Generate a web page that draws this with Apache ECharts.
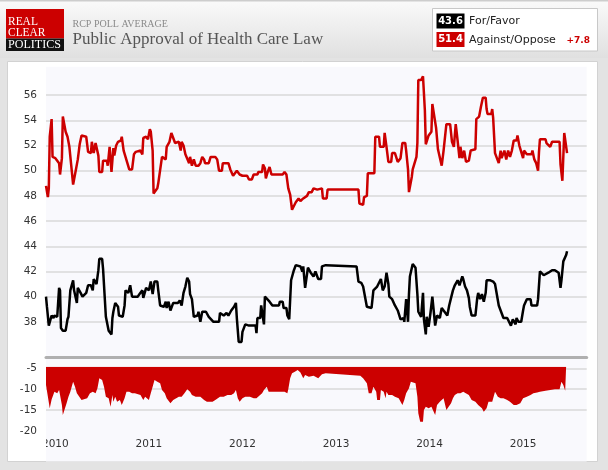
<!DOCTYPE html>
<html>
<head>
<meta charset="utf-8">
<script src="https://cdn.jsdelivr.net/npm/echarts@6/dist/echarts.min.js"></script>
<style>
html, body { margin: 0; padding: 0; background: #e3e3e3; }
#mainchart { width: 608px; height: 470px; }
</style>
</head>
<body>
<div id="mainchart"></div>
<script>
// RCP average, time given as decimal year
var yearTicks = [2010, 2011, 2012, 2013, 2014, 2015];

var opposeYears = [
	2009.90, 2009.92, 2009.93, 2009.94, 2009.96, 2009.97, 2010.00, 2010.04, 2010.05, 2010.07,
	2010.08, 2010.10, 2010.11, 2010.13, 2010.15, 2010.17, 2010.19, 2010.20, 2010.22, 2010.24,
	2010.26, 2010.28, 2010.30, 2010.33, 2010.35, 2010.38, 2010.39, 2010.41, 2010.43, 2010.45,
	2010.46, 2010.47, 2010.50, 2010.51, 2010.55, 2010.56, 2010.58, 2010.60, 2010.62, 2010.63,
	2010.65, 2010.67, 2010.70, 2010.71, 2010.73, 2010.77, 2010.79, 2010.82, 2010.84, 2010.86,
	2010.91, 2010.93, 2010.94, 2010.97, 2010.99, 2011.01, 2011.02, 2011.04, 2011.05, 2011.07,
	2011.09, 2011.10, 2011.12, 2011.14, 2011.16, 2011.18, 2011.19, 2011.22, 2011.24, 2011.26,
	2011.28, 2011.32, 2011.34, 2011.35, 2011.37, 2011.39, 2011.41, 2011.43, 2011.44, 2011.46,
	2011.48, 2011.50, 2011.53, 2011.55, 2011.57, 2011.59, 2011.60, 2011.64, 2011.66, 2011.71,
	2011.73, 2011.75, 2011.78, 2011.79, 2011.85, 2011.87, 2011.90, 2011.92, 2011.94, 2011.97,
	2012.00, 2012.01, 2012.05, 2012.07, 2012.10, 2012.12, 2012.16, 2012.17, 2012.21, 2012.22,
	2012.24, 2012.25, 2012.27, 2012.29, 2012.31, 2012.43, 2012.45, 2012.47, 2012.49, 2012.51,
	2012.53, 2012.55, 2012.57, 2012.58, 2012.60, 2012.62, 2012.65, 2012.69, 2012.71, 2012.74,
	2012.76, 2012.80, 2012.81, 2012.85, 2012.86, 2012.90, 2012.91, 2013.24, 2013.25, 2013.29,
	2013.30, 2013.33, 2013.34, 2013.41, 2013.42, 2013.46, 2013.47, 2013.51, 2013.52, 2013.53,
	2013.54, 2013.56, 2013.59, 2013.60, 2013.63, 2013.65, 2013.66, 2013.69, 2013.71, 2013.74,
	2013.75, 2013.77, 2013.78, 2013.80, 2013.81, 2013.82, 2013.84, 2013.86, 2013.87, 2013.88,
	2013.91, 2013.93, 2013.94, 2013.95, 2013.96, 2013.98, 2013.99, 2014.02, 2014.03, 2014.05,
	2014.07, 2014.09, 2014.11, 2014.13, 2014.15, 2014.18, 2014.22, 2014.24, 2014.26, 2014.28,
	2014.30, 2014.32, 2014.33, 2014.35, 2014.37, 2014.39, 2014.42, 2014.44, 2014.49, 2014.50,
	2014.53, 2014.55, 2014.57, 2014.60, 2014.61, 2014.62, 2014.66, 2014.67, 2014.68, 2014.70,
	2014.74, 2014.76, 2014.77, 2014.80, 2014.82, 2014.84, 2014.86, 2014.88, 2014.90, 2014.93,
	2014.94, 2014.96, 2014.98, 2015.00, 2015.01, 2015.04, 2015.09, 2015.10, 2015.12, 2015.14,
	2015.16, 2015.17, 2015.18, 2015.24, 2015.25, 2015.29, 2015.31, 2015.39, 2015.40, 2015.42,
	2015.43, 2015.44, 2015.46, 2015.47
];
var opposeValues = [
	48.8, 47.9, 48.6, 52.7, 54.1, 51.1, 51.0, 50.6, 49.7, 51.0,
	54.3, 54.3, 53.1, 52.7, 51.9, 50.4, 48.9, 48.8, 50.1, 50.9,
	52.1, 52.8, 52.8, 52.7, 51.5, 51.4, 52.3, 51.4, 52.2, 52.2,
	51.2, 49.9, 49.9, 50.8, 50.8, 50.4, 51.9, 49.9, 51.8, 51.2,
	52.0, 52.3, 52.4, 52.7, 51.6, 50.6, 50.1, 50.1, 51.3, 51.5,
	51.6, 51.3, 52.6, 52.7, 52.5, 53.3, 53.1, 51.6, 48.2, 48.3,
	48.6, 49.0, 49.0, 51.1, 51.1, 50.9, 51.9, 52.3, 53.0, 52.6,
	52.2, 52.3, 51.6, 52.3, 52.0, 51.3, 51.4, 50.6, 51.1, 50.4,
	50.9, 50.4, 50.4, 50.6, 51.1, 50.9, 50.6, 50.6, 51.1, 51.1,
	50.9, 50.0, 50.0, 50.6, 50.6, 50.1, 49.6, 49.6, 50.0, 49.7,
	49.6, 49.7, 49.6, 49.3, 49.3, 49.7, 49.7, 49.9, 49.9, 50.5,
	50.2, 49.4, 49.9, 50.3, 49.7, 49.7, 49.9, 49.7, 48.6, 48.1,
	46.9, 47.0, 47.5, 47.4, 47.8, 47.6, 47.8, 48.0, 48.3, 48.3,
	48.6, 48.5, 48.6, 48.6, 47.8, 47.8, 48.5, 48.5, 47.4, 47.3,
	47.9, 48.0, 49.8, 49.8, 52.7, 52.7, 51.9, 51.9, 53.0, 53.0,
	51.9, 50.7, 50.7, 51.4, 51.4, 51.5, 50.7, 51.0, 52.2, 52.2,
	51.6, 50.1, 48.3, 48.3, 49.5, 50.1, 50.2, 51.1, 52.2, 57.2,
	57.2, 57.5, 57.5, 54.8, 52.1, 52.1, 52.8, 53.1, 55.3, 55.3,
	53.4, 51.7, 51.6, 50.4, 51.6, 53.7, 53.7, 52.3, 51.9, 53.7,
	52.4, 51.0, 51.9, 51.0, 51.6, 50.7, 50.8, 51.6, 51.7, 54.1,
	54.3, 55.1, 55.8, 55.8, 54.9, 54.5, 54.5, 54.9, 54.2, 51.4,
	50.6, 51.6, 51.0, 51.6, 50.9, 51.6, 51.1, 51.6, 52.4, 52.4,
	52.8, 52.0, 51.9, 51.0, 51.6, 51.3, 51.3, 51.6, 50.9, 50.6,
	50.0, 51.5, 52.5, 52.5, 52.2, 51.9, 52.3, 52.3, 50.5, 49.2,
	49.2, 53.0, 53.0, 51.4
];

var favorYears = [
	2009.90, 2009.91, 2009.93, 2009.95, 2009.96, 2009.98, 2009.99, 2010.02, 2010.04, 2010.05,
	2010.06, 2010.08, 2010.11, 2010.13, 2010.14, 2010.16, 2010.19, 2010.20, 2010.23, 2010.24,
	2010.27, 2010.29, 2010.33, 2010.35, 2010.38, 2010.40, 2010.41, 2010.44, 2010.46, 2010.47,
	2010.50, 2010.51, 2010.52, 2010.54, 2010.56, 2010.57, 2010.60, 2010.61, 2010.62, 2010.64,
	2010.67, 2010.68, 2010.70, 2010.72, 2010.74, 2010.75, 2010.78, 2010.80, 2010.82, 2010.88,
	2010.90, 2010.93, 2010.94, 2010.97, 2011.00, 2011.02, 2011.04, 2011.06, 2011.09, 2011.10,
	2011.12, 2011.16, 2011.18, 2011.19, 2011.21, 2011.23, 2011.26, 2011.28, 2011.31, 2011.33,
	2011.35, 2011.37, 2011.39, 2011.41, 2011.43, 2011.44, 2011.46, 2011.48, 2011.52, 2011.53,
	2011.55, 2011.57, 2011.61, 2011.64, 2011.66, 2011.69, 2011.75, 2011.76, 2011.80, 2011.83,
	2011.85, 2011.88, 2011.91, 2011.93, 2011.94, 2011.96, 2011.99, 2012.00, 2012.03, 2012.07,
	2012.14, 2012.15, 2012.16, 2012.19, 2012.20, 2012.23, 2012.24, 2012.26, 2012.29, 2012.32,
	2012.39, 2012.40, 2012.43, 2012.44, 2012.47, 2012.48, 2012.50, 2012.52, 2012.55, 2012.57,
	2012.59, 2012.62, 2012.64, 2012.65, 2012.67, 2012.69, 2012.70, 2012.73, 2012.74, 2012.76,
	2012.78, 2012.80, 2012.81, 2012.84, 2012.85, 2012.89, 2012.90, 2013.22, 2013.24, 2013.27,
	2013.29, 2013.31, 2013.33, 2013.35, 2013.38, 2013.40, 2013.42, 2013.44, 2013.46, 2013.48,
	2013.50, 2013.52, 2013.54, 2013.56, 2013.57, 2013.60, 2013.63, 2013.66, 2013.68, 2013.69,
	2013.72, 2013.73, 2013.75, 2013.77, 2013.78, 2013.79, 2013.82, 2013.85, 2013.87, 2013.88,
	2013.91, 2013.93, 2013.94, 2013.96, 2013.97, 2013.99, 2014.01, 2014.03, 2014.05, 2014.06,
	2014.08, 2014.11, 2014.13, 2014.16, 2014.19, 2014.21, 2014.23, 2014.25, 2014.27, 2014.30,
	2014.32, 2014.35, 2014.36, 2014.38, 2014.40, 2014.42, 2014.43, 2014.45, 2014.49, 2014.51,
	2014.52, 2014.54, 2014.56, 2014.58, 2014.60, 2014.61, 2014.65, 2014.68, 2014.70, 2014.72,
	2014.74, 2014.76, 2014.77, 2014.79, 2014.83, 2014.84, 2014.87, 2014.89, 2014.92, 2014.93,
	2014.95, 2014.98, 2015.00, 2015.01, 2015.04, 2015.08, 2015.09, 2015.15, 2015.16, 2015.18,
	2015.20, 2015.22, 2015.27, 2015.31, 2015.34, 2015.36, 2015.38, 2015.40, 2015.41, 2015.43,
	2015.45, 2015.46, 2015.47
];
var favorValues = [
	40.0, 39.2, 37.7, 37.8, 38.5, 38.3, 38.5, 38.4, 40.7, 40.5,
	37.5, 37.3, 37.3, 38.2, 38.4, 40.5, 41.3, 40.5, 39.5, 40.7,
	40.3, 40.0, 40.3, 40.9, 40.9, 40.5, 41.4, 41.0, 42.1, 43.0,
	43.0, 42.2, 42.2, 38.4, 38.3, 37.3, 37.0, 38.3, 38.8, 39.5,
	39.2, 38.5, 38.5, 38.4, 39.3, 40.5, 40.3, 40.9, 40.0, 40.0,
	40.2, 40.5, 39.9, 40.7, 40.5, 41.2, 40.2, 41.2, 41.2, 40.5,
	39.3, 39.2, 39.6, 39.1, 39.6, 38.9, 39.5, 39.6, 39.5, 39.7,
	39.3, 40.3, 40.8, 41.5, 41.2, 40.2, 39.8, 38.4, 38.5, 38.8,
	38.0, 38.8, 38.8, 38.4, 38.3, 38.0, 38.0, 38.7, 38.5, 38.7,
	38.5, 38.9, 39.2, 39.5, 38.3, 36.4, 36.4, 37.2, 37.8, 37.7,
	37.7, 37.1, 38.3, 38.3, 39.3, 37.8, 40.0, 40.1, 39.6, 39.3,
	39.3, 39.6, 39.6, 39.1, 39.1, 38.5, 38.2, 41.3, 42.1, 42.5,
	42.6, 42.4, 42.0, 42.4, 40.7, 40.7, 42.3, 41.9, 42.0, 41.6,
	42.0, 41.9, 41.4, 41.4, 42.4, 42.5, 42.4, 42.4, 41.2, 41.1,
	40.8, 40.7, 39.2, 39.1, 39.1, 40.5, 40.5, 40.8, 40.8, 41.4,
	40.5, 40.8, 41.9, 41.0, 40.0, 39.8, 39.3, 38.9, 38.8, 38.2,
	38.3, 38.0, 39.8, 38.0, 40.2, 41.6, 42.6, 42.3, 40.2, 38.8,
	38.4, 40.3, 38.2, 37.0, 38.4, 37.6, 38.7, 40.0, 39.9, 37.7,
	38.5, 38.3, 39.1, 38.8, 38.5, 39.3, 39.9, 40.5, 40.9, 41.3,
	40.9, 41.6, 41.4, 40.8, 40.5, 39.9, 39.2, 38.5, 38.5, 39.9,
	40.3, 39.8, 40.2, 39.6, 40.3, 41.3, 41.3, 41.2, 41.0, 40.9,
	39.3, 38.9, 38.8, 38.3, 38.3, 38.2, 37.7, 38.2, 37.8, 38.3,
	38.0, 38.0, 38.9, 39.3, 39.8, 39.8, 39.3, 39.3, 39.8, 42.0,
	42.1, 41.7, 41.9, 42.1, 42.1, 42.0, 41.9, 40.7, 41.3, 42.8,
	42.9, 43.3, 43.6
];

var spreadYears = [
	2009.90, 2009.92, 2009.94, 2009.96, 2009.98, 2009.99, 2010.02, 2010.04, 2010.05, 2010.07,
	2010.08, 2010.10, 2010.12, 2010.14, 2010.16, 2010.19, 2010.21, 2010.23, 2010.25, 2010.28,
	2010.30, 2010.34, 2010.37, 2010.40, 2010.43, 2010.45, 2010.47, 2010.50, 2010.52, 2010.54,
	2010.57, 2010.59, 2010.61, 2010.62, 2010.64, 2010.66, 2010.69, 2010.71, 2010.74, 2010.76,
	2010.79, 2010.82, 2010.85, 2010.87, 2010.91, 2010.94, 2010.96, 2011.00, 2011.02, 2011.04,
	2011.06, 2011.09, 2011.12, 2011.14, 2011.17, 2011.19, 2011.23, 2011.26, 2011.28, 2011.32,
	2011.35, 2011.38, 2011.41, 2011.44, 2011.46, 2011.50, 2011.52, 2011.55, 2011.59, 2011.62,
	2011.68, 2011.71, 2011.76, 2011.80, 2011.84, 2011.88, 2011.91, 2011.93, 2011.95, 2011.97,
	2012.00, 2012.03, 2012.08, 2012.12, 2012.15, 2012.17, 2012.21, 2012.23, 2012.26, 2012.28,
	2012.45, 2012.48, 2012.49, 2012.51, 2012.53, 2012.56, 2012.59, 2012.62, 2012.65, 2012.67,
	2012.71, 2012.76, 2012.81, 2012.85, 2012.89, 2012.90, 2013.26, 2013.29, 2013.33, 2013.35,
	2013.38, 2013.40, 2013.43, 2013.44, 2013.47, 2013.48, 2013.51, 2013.53, 2013.54, 2013.56,
	2013.60, 2013.63, 2013.67, 2013.71, 2013.73, 2013.75, 2013.78, 2013.80, 2013.82, 2013.85,
	2013.87, 2013.88, 2013.90, 2013.93, 2013.94, 2013.96, 2013.99, 2014.02, 2014.04, 2014.06,
	2014.08, 2014.11, 2014.13, 2014.15, 2014.18, 2014.20, 2014.23, 2014.25, 2014.27, 2014.30,
	2014.33, 2014.36, 2014.38, 2014.42, 2014.45, 2014.49, 2014.52, 2014.56, 2014.58, 2014.61,
	2014.63, 2014.67, 2014.70, 2014.73, 2014.76, 2014.79, 2014.83, 2014.86, 2014.90, 2014.93,
	2014.97, 2015.00, 2015.04, 2015.08, 2015.11, 2015.15, 2015.18, 2015.24, 2015.29, 2015.34,
	2015.39, 2015.41, 2015.43, 2015.45, 2015.46
];
var spreadValues = [
	-9.0, -9.0, -14.6, -12.5, -12.5, -10.6, -11.0, -10.2, -10.2, -13.8,
	-16.2, -15.8, -13.4, -11.8, -10.6, -8.2, -9.4, -11.0, -11.4, -12.6,
	-12.4, -12.2, -11.0, -10.6, -11.0, -9.8, -7.4, -7.8, -9.4, -11.8,
	-12.2, -14.2, -11.4, -13.0, -11.8, -13.0, -12.6, -13.8, -12.2, -10.6,
	-10.6, -11.0, -11.0, -11.4, -11.4, -12.6, -11.8, -12.6, -11.0, -9.4,
	-7.8, -8.2, -8.6, -10.2, -11.0, -12.2, -13.4, -12.6, -12.6, -11.8,
	-11.8, -11.0, -10.0, -10.6, -11.4, -11.8, -12.2, -11.8, -12.6, -13.0,
	-13.0, -12.6, -11.8, -11.8, -11.4, -11.4, -11.0, -10.2, -12.2, -13.0,
	-12.2, -11.8, -11.8, -12.2, -12.2, -11.8, -11.0, -10.2, -9.4, -10.6,
	-10.6, -11.0, -10.0, -7.4, -6.2, -5.8, -5.4, -6.0, -7.4, -6.6,
	-7.0, -6.8, -7.4, -6.4, -6.2, -6.6, -6.8, -7.4, -8.6, -11.0,
	-11.0, -9.4, -10.6, -12.6, -12.6, -10.2, -10.6, -12.2, -10.6, -11.4,
	-11.4, -11.8, -12.2, -13.8, -12.6, -11.0, -9.8, -8.2, -8.2, -8.6,
	-11.8, -15.8, -17.8, -17.8, -15.0, -14.2, -14.6, -14.2, -14.2, -16.2,
	-13.8, -13.0, -12.6, -12.2, -15.0, -14.6, -13.4, -12.2, -11.4, -11.0,
	-11.0, -10.6, -10.2, -11.4, -12.6, -13.0, -13.8, -14.6, -15.4, -14.6,
	-13.0, -13.0, -10.6, -11.8, -12.2, -12.2, -12.6, -13.0, -13.8, -13.8,
	-13.4, -12.2, -11.8, -11.4, -11.0, -10.8, -10.6, -10.4, -10.2, -10.0,
	-10.0, -8.2, -9.0, -10.4, -10.2
];

var latestFavor = '43.6';
var latestOppose = '51.4';
var latestSpread = '+7.8';

function pairs(xs, ys) {
	var out = [];
	for (var i = 0; i < xs.length && i < ys.length; i++) {
		out.push([xs[i], ys[i]]);
	}
	return out;
}

var chart = echarts.init(document.getElementById('mainchart'));

var serif = '"Liberation Serif", "DejaVu Serif", serif';
var sans = '"DejaVu Sans", Verdana, sans-serif';
var xMin = 2009.9, xMax = 2015.68;

var option = {
	animation: false,
	backgroundColor: '#e3e3e3',
	graphic: [
		// header band
		{ type: 'rect', z: -20, shape: { x: 0, y: 0, width: 608, height: 58 },
			style: { fill: new echarts.graphic.LinearGradient(0, 0, 0, 1, [
				{ offset: 0, color: '#fafafa' }, { offset: 1, color: '#e0e0e0' }]) } },
		{ type: 'rect', z: -19, shape: { x: 0, y: 0, width: 608, height: 1.5 }, style: { fill: '#cdcdcd' } },
		// chart panel and plot background
		{ type: 'rect', z: -18, shape: { x: 7.5, y: 61.5, width: 590, height: 400 },
			style: { fill: '#ffffff', stroke: '#d2d2d2', lineWidth: 1 } },
		{ type: 'rect', z: -17, shape: { x: 46, y: 66.7, width: 540.7, height: 394.8 }, style: { fill: '#f9f9fd' } },
		// logo
		{ type: 'rect', z: 5, shape: { x: 6, y: 9, width: 58, height: 29.5 }, style: { fill: '#cc0000' } },
		{ type: 'rect', z: 5, shape: { x: 6, y: 38.5, width: 58, height: 12.5 }, style: { fill: '#111111' } },
		{ type: 'text', z: 6, x: 8, y: 22, scaleX: 0.88,
			style: { text: 'REAL', fill: '#fff', font: '13px ' + serif, verticalAlign: 'middle' } },
		{ type: 'text', z: 6, x: 8, y: 32.5, scaleX: 0.88,
			style: { text: 'CLEAR', fill: '#fff', font: '13px ' + serif, verticalAlign: 'middle' } },
		{ type: 'text', z: 6, x: 8, y: 44.5, scaleX: 0.93,
			style: { text: 'POLITICS', fill: '#fff', font: '13px ' + serif, verticalAlign: 'middle' } },
		// title
		{ type: 'text', z: 6, x: 72.5, y: 24,
			style: { text: 'RCP POLL AVERAGE', fill: '#8a8a8a', font: '10px ' + serif, verticalAlign: 'middle' } },
		{ type: 'text', z: 6, x: 72.5, y: 40,
			style: { text: 'Public Approval of Health Care Law', fill: '#555555', font: '17px ' + serif, verticalAlign: 'middle' } },
		// legend box
		{ type: 'rect', z: 5, shape: { x: 432.5, y: 8.5, width: 165, height: 42.5 },
			style: { fill: '#ffffff', stroke: '#c8c8c8', lineWidth: 1 } },
		{ type: 'rect', z: 6, shape: { x: 436.5, y: 13.5, width: 28, height: 15 }, style: { fill: '#000000' } },
		{ type: 'text', z: 7, x: 450.5, y: 21.2,
			style: { text: latestFavor, fill: '#fff', font: 'bold 10px ' + sans, align: 'center', verticalAlign: 'middle' } },
		{ type: 'rect', z: 6, shape: { x: 436.5, y: 32, width: 28, height: 15 }, style: { fill: '#cc0000' } },
		{ type: 'text', z: 7, x: 450.5, y: 39.7,
			style: { text: latestOppose, fill: '#fff', font: 'bold 10px ' + sans, align: 'center', verticalAlign: 'middle' } },
		{ type: 'text', z: 7, x: 469, y: 21.5,
			style: { text: 'For/Favor', fill: '#222', font: '11px ' + sans, verticalAlign: 'middle' } },
		{ type: 'text', z: 7, x: 469, y: 40,
			style: { text: 'Against/Oppose', fill: '#222', font: '11px ' + sans, verticalAlign: 'middle' } },
		{ type: 'text', z: 7, x: 566.5, y: 41,
			style: { text: latestSpread, fill: '#cc0000', font: 'bold 9px ' + sans, verticalAlign: 'middle' } },
		// left margin hides the start of the first year label
		{ type: 'rect', z: 100, shape: { x: 8, y: 437, width: 38, height: 16 }, style: { fill: '#ffffff' } }
	],
	grid: [
		{ left: 46, right: 21.3, top: 70, height: 277 },
		{ left: 46, right: 21.3, top: 366.7, height: 64.1 }
	],
	xAxis: [
		{
			gridIndex: 0, type: 'value', min: xMin, max: xMax, offset: 10,
			axisLine: { show: true, lineStyle: { color: '#b0b0b0', width: 3 } },
			axisTick: { show: false }, axisLabel: { show: false }, splitLine: { show: false }
		},
		{
			gridIndex: 1, type: 'value', min: xMin, max: xMax,
			axisLine: { show: false }, axisTick: { show: false }, splitLine: { show: false },
			axisLabel: {
				customValues: yearTicks,
				formatter: function (v) { return String(v); },
				color: '#333', fontFamily: 'DejaVu Sans', fontSize: 10.5, margin: 8
			}
		}
	],
	yAxis: [
		{
			gridIndex: 0, type: 'value', min: 36, max: 58, interval: 2,
			axisLine: { show: false }, axisTick: { show: false },
			axisLabel: { showMinLabel: false, showMaxLabel: false, color: '#333', fontFamily: 'DejaVu Sans', fontSize: 10.5, margin: 9 },
			splitLine: { show: true, showMinLine: false, showMaxLine: false, lineStyle: { color: '#d9d9d9', width: 1.5 } }
		},
		{
			gridIndex: 1, type: 'value', min: -20, max: -4.6, interval: 5,
			axisLine: { show: false }, axisTick: { show: false },
			axisLabel: { showMaxLabel: false, color: '#333', fontFamily: 'DejaVu Sans', fontSize: 10.5, margin: 9 },
			splitLine: { show: true, showMinLine: false, showMaxLine: false, lineStyle: { color: '#d9d9d9', width: 1.5 } }
		}
	],
	series: [
		{
			name: 'Against/Oppose', type: 'line', xAxisIndex: 0, yAxisIndex: 0,
			data: pairs(opposeYears, opposeValues),
			showSymbol: false, z: 3,
			lineStyle: { color: '#cc0000', width: 2.5 }
		},
		{
			name: 'For/Favor', type: 'line', xAxisIndex: 0, yAxisIndex: 0,
			data: pairs(favorYears, favorValues),
			showSymbol: false, z: 3,
			lineStyle: { color: '#000000', width: 2.5 }
		},
		{
			name: 'Spread', type: 'line', xAxisIndex: 1, yAxisIndex: 1,
			data: pairs(spreadYears, spreadValues),
			showSymbol: false, z: 3,
			lineStyle: { width: 0 },
			areaStyle: { color: '#cc0000', opacity: 1, origin: 'end' }
		}
	]
};

chart.setOption(option);
</script>
</body>
</html>
